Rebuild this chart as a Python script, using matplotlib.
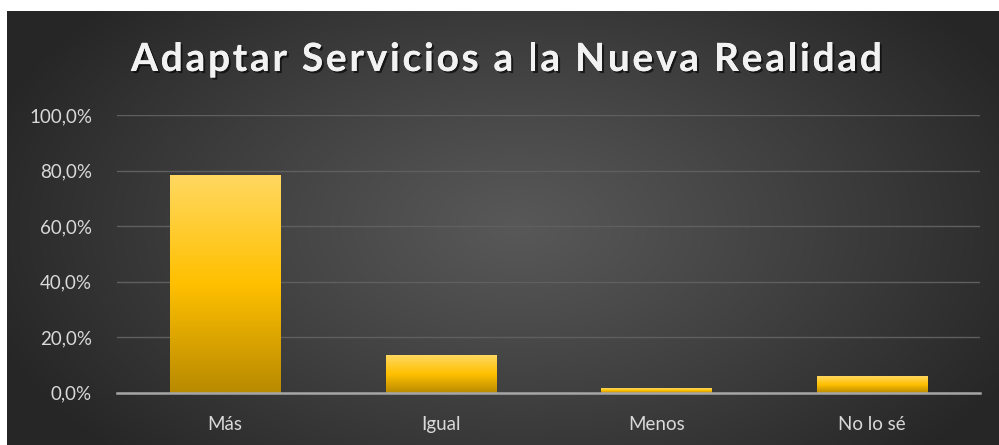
import numpy as np
import matplotlib
matplotlib.use("Agg")
import matplotlib.pyplot as plt
import matplotlib.patheffects as pe
from matplotlib.ticker import FuncFormatter

categories = ["Más", "Igual", "Menos", "No lo sé"]
values = [78.4, 13.6, 1.8, 5.9]
yticks = [0, 20, 40, 60, 80, 100]
title = "Adaptar Servicios a la Nueva Realidad"

W, H = 999, 445
fig = plt.figure(figsize=(W / 100, H / 100), dpi=100)
fig.patch.set_facecolor("white")

# background with radial gradient
bg = fig.add_axes([7 / W, 0, 1 - 7 / W, 1 - 11 / H])
bg.set_axis_off()
yy, xx = np.mgrid[0:434, 0:992]
cx, cy = 510, 215
r = np.sqrt(((xx - cx) / 560.0) ** 2 + ((yy - cy) / 330.0) ** 2)
r = np.clip(r, 0, 1)
center = np.array([0x58, 0x58, 0x58]) / 255
edge = np.array([0x26, 0x26, 0x26]) / 255
t = r[..., None] ** 1.1
img = center * (1 - t) + edge * t
bg.imshow(img, aspect="auto", extent=[0, 1, 0, 1], interpolation="bilinear")
bg.set_xlim(0, 1)
bg.set_ylim(0, 1)

ax = fig.add_axes([117 / W, 1 - 392.7 / H, (980 - 117) / W, (392.7 - 115) / H])
ax.set_facecolor("none")
x = np.arange(len(categories))
bars = ax.bar(x, values, width=0.51, color="#ffc000", zorder=3,
              edgecolor="#8a6a00", linewidth=0.6)

# vertical gradient in bars
grad = np.linspace(0, 1, 256)[:, None]
c_top = np.array([0xff, 0xd8, 0x60]) / 255
c_mid = np.array([0xff, 0xc0, 0x00]) / 255
c_bot = np.array([0xb8, 0x8a, 0x00]) / 255
cols = np.where(grad < 0.5,
                c_bot + (c_mid - c_bot) * (grad / 0.5),
                c_mid + (c_top - c_mid) * ((grad - 0.5) / 0.5))
gimg = np.repeat(cols[:, None, :], 2, axis=1).reshape(256, 2, 3)
for b in bars:
    x0, w, h = b.get_x(), b.get_width(), b.get_height()
    im = ax.imshow(gimg, extent=[x0, x0 + w, 0, h], origin="lower",
                   aspect="auto", zorder=3.5, interpolation="bilinear")
    im.set_clip_path(b)

ax.set_xlim(-0.5, len(categories) - 0.5)
ax.set_ylim(0, 100)
ax.set_yticks(yticks)
ax.yaxis.set_major_formatter(FuncFormatter(lambda v, p: f"{v:.1f}%".replace(".", ",")))
ax.set_xticks(x)
ax.set_xticklabels(categories)
ax.grid(axis="y", color="#5f5f5f", linewidth=1.0, zorder=1)
ax.set_axisbelow(True)
for s in ["top", "right", "left"]:
    ax.spines[s].set_visible(False)
ax.spines["bottom"].set_color("#a6a6a6")
ax.spines["bottom"].set_linewidth(1.8)
ax.spines["bottom"].set_zorder(4)
ax.tick_params(axis="both", length=0, colors="#d9d9d9", labelsize=13.5)
ax.tick_params(axis="y", pad=18)
ax.tick_params(axis="x", pad=17)
for lab in ax.get_xticklabels() + ax.get_yticklabels():
    lab.set_fontfamily("Lato")

# title with letter spacing, placed character by character
renderer = fig.canvas.get_renderer()
tprops = dict(fontsize=28, fontfamily="Lato", fontweight="bold")


def adv(s):
    t1 = fig.text(0, 0, s + "|", **tprops)
    t2 = fig.text(0, 0, "|", **tprops)
    w = t1.get_window_extent(renderer).width - t2.get_window_extent(renderer).width
    t1.remove()
    t2.remove()
    return w


x_start, x_end = 131.0, 882.0
natural = adv(title)
n = len(title)
spacing = (x_end - x_start - natural) / (n - 1)
base_y = 1 - 71 / H
for i, ch in enumerate(title):
    if ch == " ":
        continue
    px = x_start + adv(title[:i]) + i * spacing
    fig.text(px / W, base_y, ch, ha="left", va="baseline", color="#f2f2f2",
             path_effects=[pe.withSimplePatchShadow(offset=(1.5, -1.5), shadow_rgbFace="black", alpha=0.6),
                           pe.Normal()], **tprops)

fig.savefig("out.png", dpi=100, facecolor=fig.get_facecolor())
